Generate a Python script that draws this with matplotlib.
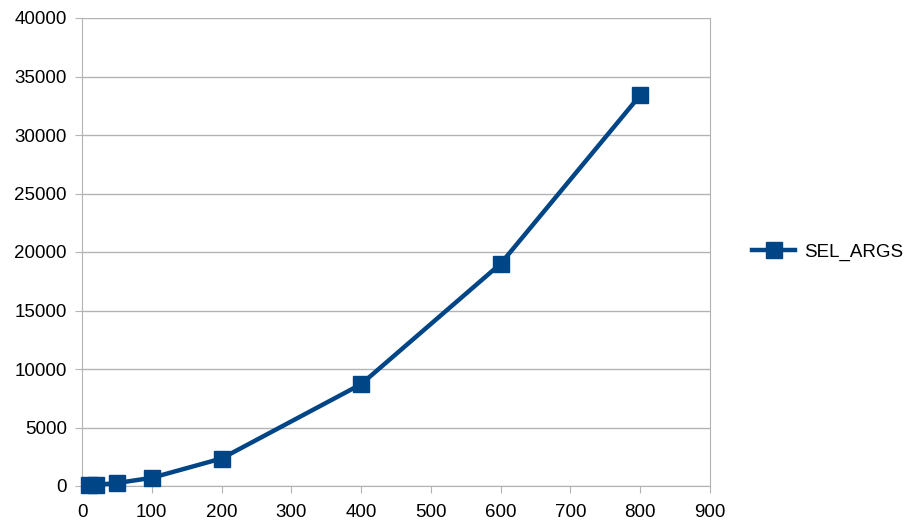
import matplotlib.pyplot as plt

plt.rcParams["font.family"] = ["Liberation Sans", "DejaVu Sans"]

x = [10, 20, 50, 100, 200, 400, 600, 800]
y = [60, 100, 250, 700, 2350, 8700, 19000, 33400]
series_name = "SEL_ARGS"

fig = plt.figure(figsize=(9.19, 5.32), dpi=100)
ax = fig.add_axes([82 / 919, 46 / 532, 628 / 919, 468 / 532])

ax.plot(x, y, color="#004586", linewidth=3.2, marker="s", markersize=11,
        label=series_name, clip_on=False, zorder=3)

ax.set_xlim(0, 900)
ax.set_ylim(0, 40000)
ax.set_xticks(range(0, 901, 100))
ax.set_yticks(range(0, 40001, 5000))
ax.grid(axis="y", color="#b3b3b3", linewidth=1)
ax.set_axisbelow(True)
for s in ["left", "bottom", "right"]:
    ax.spines[s].set_color("#b3b3b3")
ax.spines["top"].set_visible(False)
ax.tick_params(colors="#b3b3b3", labelcolor="black", labelsize=13.5, length=5)
ax.tick_params(axis="x", pad=8)
ax.tick_params(axis="y", pad=6)

ax.legend(loc="center left", bbox_to_anchor=(1.04, 0.5), frameon=False,
          fontsize=13.5, handlelength=2.3, handletextpad=0.5)

fig.savefig("out.png")
